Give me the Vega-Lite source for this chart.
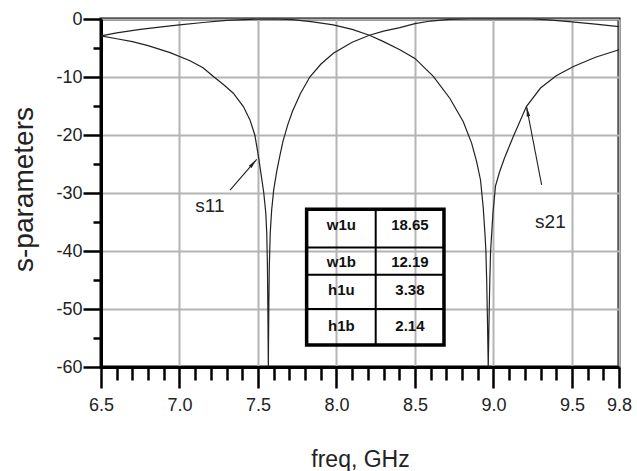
{
  "$schema": "https://vega.github.io/schema/vega-lite/v6.json",
  "width": 518,
  "height": 348,
  "autosize": {"type": "none"},
  "padding": {"left": 101, "top": 19, "right": 18, "bottom": 104},
  "background": "white",
  "config": {
    "view": {"stroke": "black", "strokeWidth": 3},
    "font": "Liberation Sans",
    "axis": {
      "domainColor": "black",
      "domainWidth": 3,
      "tickColor": "black",
      "tickWidth": 2.5,
      "labelFont": "Liberation Sans",
      "labelColor": "#222",
      "labelFontSize": 18,
      "labelFlush": false,
      "labelOverlap": false,
      "gridColor": "#b4b4b4",
      "gridWidth": 2,
      "gridOpacity": 1,
      "titleFont": "Liberation Sans",
      "titleFontWeight": "normal",
      "titleColor": "#222"
    }
  },
  "datasets": {
    "curves": [
      {"c": "s11", "f": 6.5, "db": -2.9},
      {"c": "s11", "f": 6.6, "db": -3.4},
      {"c": "s11", "f": 6.7, "db": -3.9},
      {"c": "s11", "f": 6.8, "db": -4.6},
      {"c": "s11", "f": 6.94, "db": -5.8},
      {"c": "s11", "f": 7.067, "db": -7.2},
      {"c": "s11", "f": 7.15, "db": -8.4},
      {"c": "s11", "f": 7.22, "db": -10.0},
      {"c": "s11", "f": 7.28, "db": -11.3},
      {"c": "s11", "f": 7.343, "db": -12.8},
      {"c": "s11", "f": 7.407, "db": -15.1},
      {"c": "s11", "f": 7.449, "db": -17.4},
      {"c": "s11", "f": 7.48, "db": -20.0},
      {"c": "s11", "f": 7.502, "db": -23.5},
      {"c": "s11", "f": 7.52, "db": -26.8},
      {"c": "s11", "f": 7.537, "db": -30.0},
      {"c": "s11", "f": 7.55, "db": -33.5},
      {"c": "s11", "f": 7.556, "db": -37.0},
      {"c": "s11", "f": 7.56, "db": -42.0},
      {"c": "s11", "f": 7.563, "db": -50.0},
      {"c": "s11", "f": 7.566, "db": -60.0},
      {"c": "s11", "f": 7.569, "db": -50.0},
      {"c": "s11", "f": 7.572, "db": -43.0},
      {"c": "s11", "f": 7.578, "db": -37.0},
      {"c": "s11", "f": 7.587, "db": -33.0},
      {"c": "s11", "f": 7.6, "db": -29.5},
      {"c": "s11", "f": 7.62, "db": -26.2},
      {"c": "s11", "f": 7.64, "db": -23.5},
      {"c": "s11", "f": 7.66, "db": -21.0},
      {"c": "s11", "f": 7.69, "db": -18.2},
      {"c": "s11", "f": 7.72, "db": -15.9},
      {"c": "s11", "f": 7.77, "db": -12.9},
      {"c": "s11", "f": 7.83, "db": -10.0},
      {"c": "s11", "f": 7.9, "db": -7.8},
      {"c": "s11", "f": 7.98, "db": -5.9},
      {"c": "s11", "f": 8.1, "db": -4.0},
      {"c": "s11", "f": 8.21, "db": -2.8},
      {"c": "s11", "f": 8.3, "db": -2.1},
      {"c": "s11", "f": 8.404, "db": -1.5},
      {"c": "s11", "f": 8.5, "db": -0.8},
      {"c": "s11", "f": 8.6, "db": -0.35},
      {"c": "s11", "f": 8.72, "db": -0.05},
      {"c": "s11", "f": 8.85, "db": 0},
      {"c": "s11", "f": 9.05, "db": 0},
      {"c": "s11", "f": 9.25, "db": 0},
      {"c": "s11", "f": 9.35, "db": -0.15},
      {"c": "s11", "f": 9.5, "db": -0.5},
      {"c": "s11", "f": 9.65, "db": -0.9},
      {"c": "s11", "f": 9.8, "db": -1.3},
      {"c": "s21", "f": 6.5, "db": -2.9},
      {"c": "s21", "f": 6.6, "db": -2.4},
      {"c": "s21", "f": 6.75, "db": -1.8},
      {"c": "s21", "f": 6.9, "db": -1.3},
      {"c": "s21", "f": 7.0, "db": -1.0},
      {"c": "s21", "f": 7.15, "db": -0.6},
      {"c": "s21", "f": 7.3, "db": -0.25},
      {"c": "s21", "f": 7.45, "db": -0.05},
      {"c": "s21", "f": 7.6, "db": 0},
      {"c": "s21", "f": 7.72, "db": -0.1},
      {"c": "s21", "f": 7.85, "db": -0.5},
      {"c": "s21", "f": 7.98, "db": -1.0},
      {"c": "s21", "f": 8.1, "db": -1.8},
      {"c": "s21", "f": 8.21, "db": -2.8},
      {"c": "s21", "f": 8.3, "db": -3.9},
      {"c": "s21", "f": 8.404, "db": -5.3},
      {"c": "s21", "f": 8.5, "db": -6.8},
      {"c": "s21", "f": 8.617, "db": -9.9},
      {"c": "s21", "f": 8.723, "db": -13.7},
      {"c": "s21", "f": 8.808, "db": -17.7},
      {"c": "s21", "f": 8.861, "db": -21.4},
      {"c": "s21", "f": 8.893, "db": -24.6},
      {"c": "s21", "f": 8.918, "db": -27.8},
      {"c": "s21", "f": 8.935, "db": -32.5},
      {"c": "s21", "f": 8.946, "db": -37.0},
      {"c": "s21", "f": 8.952, "db": -40.0},
      {"c": "s21", "f": 8.957, "db": -45.0},
      {"c": "s21", "f": 8.962, "db": -52.0},
      {"c": "s21", "f": 8.967, "db": -60.0},
      {"c": "s21", "f": 8.972, "db": -52.0},
      {"c": "s21", "f": 8.977, "db": -45.0},
      {"c": "s21", "f": 8.982, "db": -40.0},
      {"c": "s21", "f": 8.997, "db": -33.5},
      {"c": "s21", "f": 9.013, "db": -28.8},
      {"c": "s21", "f": 9.04, "db": -26.3},
      {"c": "s21", "f": 9.07, "db": -24.0},
      {"c": "s21", "f": 9.126, "db": -20.3},
      {"c": "s21", "f": 9.21, "db": -15.1},
      {"c": "s21", "f": 9.3, "db": -11.9},
      {"c": "s21", "f": 9.4, "db": -9.8},
      {"c": "s21", "f": 9.51, "db": -8.2},
      {"c": "s21", "f": 9.65, "db": -6.6},
      {"c": "s21", "f": 9.8, "db": -5.3}
    ],
    "tableBox": [{"x1": 7.81, "x2": 8.685, "y1": -32.8, "y2": -56.2}],
    "tableLines": [
      {"x1": 8.25, "x2": 8.25, "y1": -32.8, "y2": -56.2},
      {"x1": 7.81, "x2": 8.685, "y1": -39.4, "y2": -39.4},
      {"x1": 7.81, "x2": 8.685, "y1": -44.1, "y2": -44.1},
      {"x1": 7.81, "x2": 8.685, "y1": -50.0, "y2": -50.0}
    ],
    "tableText": [
      {"f": 8.031, "db": -35.6, "t": "w1u"},
      {"f": 8.468, "db": -35.6, "t": "18.65"},
      {"f": 8.031, "db": -41.9, "t": "w1b"},
      {"f": 8.468, "db": -41.9, "t": "12.19"},
      {"f": 8.031, "db": -46.8, "t": "h1u"},
      {"f": 8.468, "db": -46.8, "t": "3.38"},
      {"f": 8.031, "db": -52.9, "t": "h1b"},
      {"f": 8.468, "db": -52.9, "t": "2.14"}
    ],
    "arrows": [
      {"c": "s11", "x1": 7.322, "y1": -29.5, "x2": 7.492, "y2": -24.2},
      {"c": "s21", "x1": 9.307, "y1": -28.6, "x2": 9.211, "y2": -15.1}
    ],
    "labels": [
      {"f": 7.194, "db": -33.3, "t": "s11"},
      {"f": 9.363, "db": -36.0, "t": "s21"}
    ]
  },
  "layer": [
    {
      "data": {"name": "curves"},
      "mark": {"type": "line", "stroke": "#222", "strokeWidth": 1.2, "interpolate": "linear"},
      "encoding": {
        "x": {
          "field": "f", "type": "quantitative",
          "scale": {"domain": [6.5, 9.8], "nice": false, "zero": false},
          "axis": {
            "orient": "bottom",
            "values": [6.5, 7.0, 7.5, 8.0, 8.5, 9.0, 9.5, 9.8],
            "format": ".1f",
            "tickSize": 21,
            "labelPadding": 8,
            "grid": true,
            "title": "freq, GHz",
            "titleFontSize": 23,
            "titleX": 259,
            "titleY": 99,
            "titleAlign": "center",
            "titleBaseline": "alphabetic",
            "titleAnchor": null
          }
        },
        "y": {
          "field": "db", "type": "quantitative",
          "scale": {"domain": [-60, 0], "nice": false, "zero": false},
          "axis": {
            "orient": "left",
            "values": [-60, -50, -40, -30, -20, -10, 0],
            "labelExpr": "'' + datum.value",
            "tickSize": 18,
            "labelPadding": 1,
            "grid": true,
            "title": "s-parameters",
            "titleFontSize": 28,
            "titleAngle": -90,
            "titleX": -69,
            "titleY": 170,
            "titleAlign": "center",
            "titleBaseline": "alphabetic",
            "titleAnchor": null
          }
        },
        "detail": {"field": "c"}
      }
    },
    {
      "data": {"name": "arrows"},
      "mark": {"type": "rule", "stroke": "#222", "strokeWidth": 1.1},
      "encoding": {
        "x": {
          "field": "x1", "type": "quantitative",
          "axis": {
            "orient": "bottom",
            "values": [6.6, 6.7, 6.8, 6.9, 7.1, 7.2, 7.3, 7.4, 7.6, 7.7, 7.8, 7.9, 8.1, 8.2, 8.3, 8.4, 8.6, 8.7, 8.8, 8.9, 9.1, 9.2, 9.3, 9.4, 9.6, 9.7],
            "tickSize": 13,
            "labels": false,
            "domain": false,
            "grid": false,
            "title": null
          }
        },
        "y": {
          "field": "y1", "type": "quantitative",
          "axis": {
            "orient": "left",
            "values": [-55, -45, -35, -25, -15, -5],
            "tickSize": 8,
            "labels": false,
            "domain": false,
            "grid": false,
            "title": null
          }
        },
        "x2": {"field": "x2"},
        "y2": {"field": "y2"}
      }
    },
    {
      "data": {"name": "arrows"},
      "transform": [{"filter": "datum.c == 's11'"}],
      "mark": {"type": "point", "shape": "M0,0L0.35,2L-0.35,2Z", "filled": true, "fill": "#222", "opacity": 1, "size": 100, "angle": 41},
      "encoding": {
        "x": {"field": "x2", "type": "quantitative", "axis": null},
        "y": {"field": "y2", "type": "quantitative", "axis": null}
      }
    },
    {
      "data": {"name": "arrows"},
      "transform": [{"filter": "datum.c == 's21'"}],
      "mark": {"type": "point", "shape": "M0,0L0.35,2L-0.35,2Z", "filled": true, "fill": "#222", "opacity": 1, "size": 100, "angle": -11},
      "encoding": {
        "x": {"field": "x2", "type": "quantitative", "axis": null},
        "y": {"field": "y2", "type": "quantitative", "axis": null}
      }
    },
    {
      "data": {"name": "tableBox"},
      "mark": {"type": "rect", "fill": null, "fillOpacity": 0, "stroke": "black", "strokeWidth": 3.5},
      "encoding": {
        "x": {"field": "x1", "type": "quantitative", "axis": null},
        "x2": {"field": "x2"},
        "y": {"field": "y1", "type": "quantitative", "axis": null},
        "y2": {"field": "y2"}
      }
    },
    {
      "data": {"name": "tableLines"},
      "mark": {"type": "rule", "stroke": "black", "strokeWidth": 2},
      "encoding": {
        "x": {"field": "x1", "type": "quantitative", "axis": null},
        "x2": {"field": "x2"},
        "y": {"field": "y1", "type": "quantitative", "axis": null},
        "y2": {"field": "y2"}
      }
    },
    {
      "data": {"name": "tableText"},
      "mark": {"type": "text", "font": "Liberation Sans", "fontWeight": "bold", "fontSize": 15, "fill": "#111", "align": "center", "baseline": "middle"},
      "encoding": {
        "x": {"field": "f", "type": "quantitative", "axis": null},
        "y": {"field": "db", "type": "quantitative", "axis": null},
        "text": {"field": "t"}
      }
    },
    {
      "data": {"name": "labels"},
      "mark": {"type": "text", "font": "Liberation Sans", "fontSize": 19, "fill": "#222", "align": "center", "baseline": "alphabetic"},
      "encoding": {
        "x": {"field": "f", "type": "quantitative", "axis": null},
        "y": {"field": "db", "type": "quantitative", "axis": null},
        "text": {"field": "t"}
      }
    }
  ],
  "resolve": {"axis": {"x": "independent", "y": "independent"}}
}
